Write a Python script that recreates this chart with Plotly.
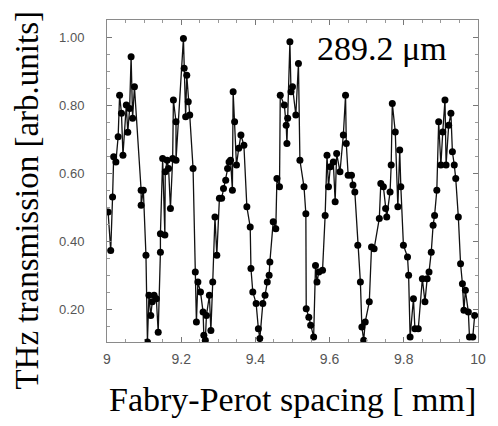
import plotly.graph_objects as go

# Fabry-Perot scan: THz transmission vs. mirror spacing
spacing_mm = [
    9.003, 9.010, 9.015, 9.018, 9.024, 9.030, 9.034, 9.039, 9.043, 9.052,
    9.056, 9.061, 9.065, 9.069, 9.074, 9.092, 9.092, 9.098, 9.105, 9.109,
    9.113, 9.118, 9.122, 9.127, 9.133, 9.138, 9.144, 9.144, 9.150, 9.156,
    9.157, 9.162, 9.166, 9.171, 9.177, 9.179, 9.186, 9.186, 9.206, 9.208,
    9.212, 9.215, 9.219, 9.223, 9.232, 9.238, 9.241, 9.245, 9.252, 9.259,
    9.261, 9.265, 9.268, 9.276, 9.280, 9.285, 9.291, 9.296, 9.303, 9.309,
    9.314, 9.320, 9.325, 9.329, 9.333, 9.338, 9.340, 9.344, 9.349, 9.355,
    9.361, 9.369, 9.377, 9.386, 9.388, 9.393, 9.402, 9.408, 9.412, 9.420,
    9.426, 9.432, 9.437, 9.439, 9.448, 9.455, 9.458, 9.465, 9.467, 9.478,
    9.483, 9.485, 9.487, 9.493, 9.496, 9.500, 9.509, 9.516, 9.520, 9.531,
    9.536, 9.537, 9.544, 9.549, 9.557, 9.562, 9.566, 9.571, 9.581, 9.588,
    9.593, 9.597, 9.602, 9.610, 9.615, 9.619, 9.628, 9.637, 9.643, 9.645,
    9.650, 9.659, 9.663, 9.668, 9.676, 9.683, 9.687, 9.692, 9.696, 9.707,
    9.713, 9.720, 9.734, 9.738, 9.745, 9.751, 9.754, 9.763, 9.766, 9.769,
    9.777, 9.784, 9.789, 9.792, 9.799, 9.810, 9.813, 9.817, 9.826, 9.830,
    9.839, 9.850, 9.857, 9.863, 9.868, 9.874, 9.879, 9.883, 9.889, 9.894,
    9.900, 9.905, 9.911, 9.914, 9.921, 9.927, 9.931, 9.936, 9.940, 9.947,
    9.953, 9.958, 9.962, 9.966, 9.974, 9.977, 9.986, 9.991,
]
transmission = [
    0.486, 0.373, 0.530, 0.648, 0.633, 0.707, 0.829, 0.776, 0.653, 0.800,
    0.720, 0.790, 0.942, 0.761, 0.854, 0.550, 0.506, 0.550, 0.359, 0.104,
    0.241, 0.182, 0.222, 0.241, 0.231, 0.133, 0.368, 0.422, 0.643, 0.418,
    0.604, 0.638, 0.614, 0.496, 0.643, 0.815, 0.751, 0.638, 0.996, 0.908,
    0.766, 0.888, 0.810, 0.771, 0.614, 0.310, 0.163, 0.280, 0.251, 0.192,
    0.124, 0.109, 0.182, 0.241, 0.138, 0.280, 0.471, 0.359, 0.526, 0.526,
    0.555, 0.579, 0.614, 0.633, 0.638, 0.550, 0.839, 0.751, 0.624, 0.673,
    0.712, 0.682, 0.501, 0.442, 0.320, 0.251, 0.217, 0.143, 0.114, 0.217,
    0.241, 0.280, 0.300, 0.339, 0.457, 0.437, 0.584, 0.560, 0.829, 0.800,
    0.741, 0.687, 0.761, 0.986, 0.839, 0.854, 0.771, 0.922, 0.638, 0.560,
    0.481, 0.202, 0.177, 0.153, 0.119, 0.329, 0.280, 0.310, 0.315, 0.476,
    0.653, 0.560, 0.619, 0.633, 0.516, 0.658, 0.604, 0.712, 0.829, 0.687,
    0.594, 0.594, 0.565, 0.545, 0.388, 0.280, 0.148, 0.109, 0.163, 0.222,
    0.383, 0.378, 0.467, 0.570, 0.560, 0.496, 0.471, 0.545, 0.624, 0.805,
    0.721, 0.501, 0.668, 0.560, 0.388, 0.354, 0.300, 0.119, 0.231, 0.143,
    0.143, 0.290, 0.222, 0.290, 0.310, 0.368, 0.447, 0.476, 0.550, 0.751,
    0.624, 0.721, 0.815, 0.624, 0.741, 0.776, 0.663, 0.624, 0.584, 0.471,
    0.334, 0.275, 0.197, 0.256, 0.192, 0.119, 0.119, 0.182,
]

x_ticks = [9.0, 9.2, 9.4, 9.6, 9.8, 10.0]
x_tick_labels = ["9", "9.2", "9.4", "9.6", "9.8", "10"]
y_ticks = [0.2, 0.4, 0.6, 0.8, 1.0]
y_tick_labels = ["0.20", "0.40", "0.60", "0.80", "1.00"]

serif = "Liberation Serif, Times New Roman, serif"
sans = "Liberation Sans, Arial, sans-serif"

fig = go.Figure(
    go.Scatter(
        x=spacing_mm,
        y=transmission,
        mode="lines+markers",
        line=dict(color="#111111", width=1.3),
        marker=dict(color="black", size=7, symbol="circle"),
        showlegend=False,
    )
)

axis_common = dict(
    showline=True,
    linecolor="#8a8a8a",
    linewidth=1,
    mirror="allticks",
    ticks="inside",
    ticklen=5,
    tickcolor="#777777",
    showgrid=False,
    zeroline=False,
    minor=dict(ticks="inside", ticklen=3, tickcolor="#999999", showgrid=False),
)

fig.update_xaxes(
    range=[9.0, 10.0],
    tickvals=x_ticks,
    ticktext=x_tick_labels,
    minor_dtick=0.05,
    ticklabelstandoff=4,
    tickfont=dict(family=sans, size=14, color="#555555"),
    **axis_common,
)
fig.update_yaxes(
    range=[0.104, 1.05],
    tickvals=y_ticks,
    ticktext=y_tick_labels,
    minor_dtick=0.05,
    ticklabelstandoff=19,
    tickfont=dict(family=sans, size=13, color="#555555"),
    **axis_common,
)

fig.update_layout(
    width=498,
    height=426,
    margin=dict(l=107, r=13, t=20, b=84),
    paper_bgcolor="white",
    plot_bgcolor="white",
    annotations=[
        dict(
            text="289.2 \u03bcm",
            xref="paper", yref="paper",
            x=0.74, y=0.913,
            xanchor="center", yanchor="middle",
            showarrow=False,
            font=dict(family=serif, size=34, color="black"),
        ),
        dict(
            text="Fabry-Perot spacing [ mm]",
            xref="paper", yref="paper",
            x=0.5, y=-0.18,
            xanchor="center", yanchor="middle",
            showarrow=False,
            font=dict(family=serif, size=34, color="black"),
        ),
        dict(
            text="THz transmission [arb.units]",
            xref="paper", yref="paper",
            x=-0.215, y=0.44,
            xanchor="center", yanchor="middle",
            textangle=-90,
            showarrow=False,
            font=dict(family=serif, size=33, color="black"),
        ),
    ],
)

fig.write_html("out.html")
